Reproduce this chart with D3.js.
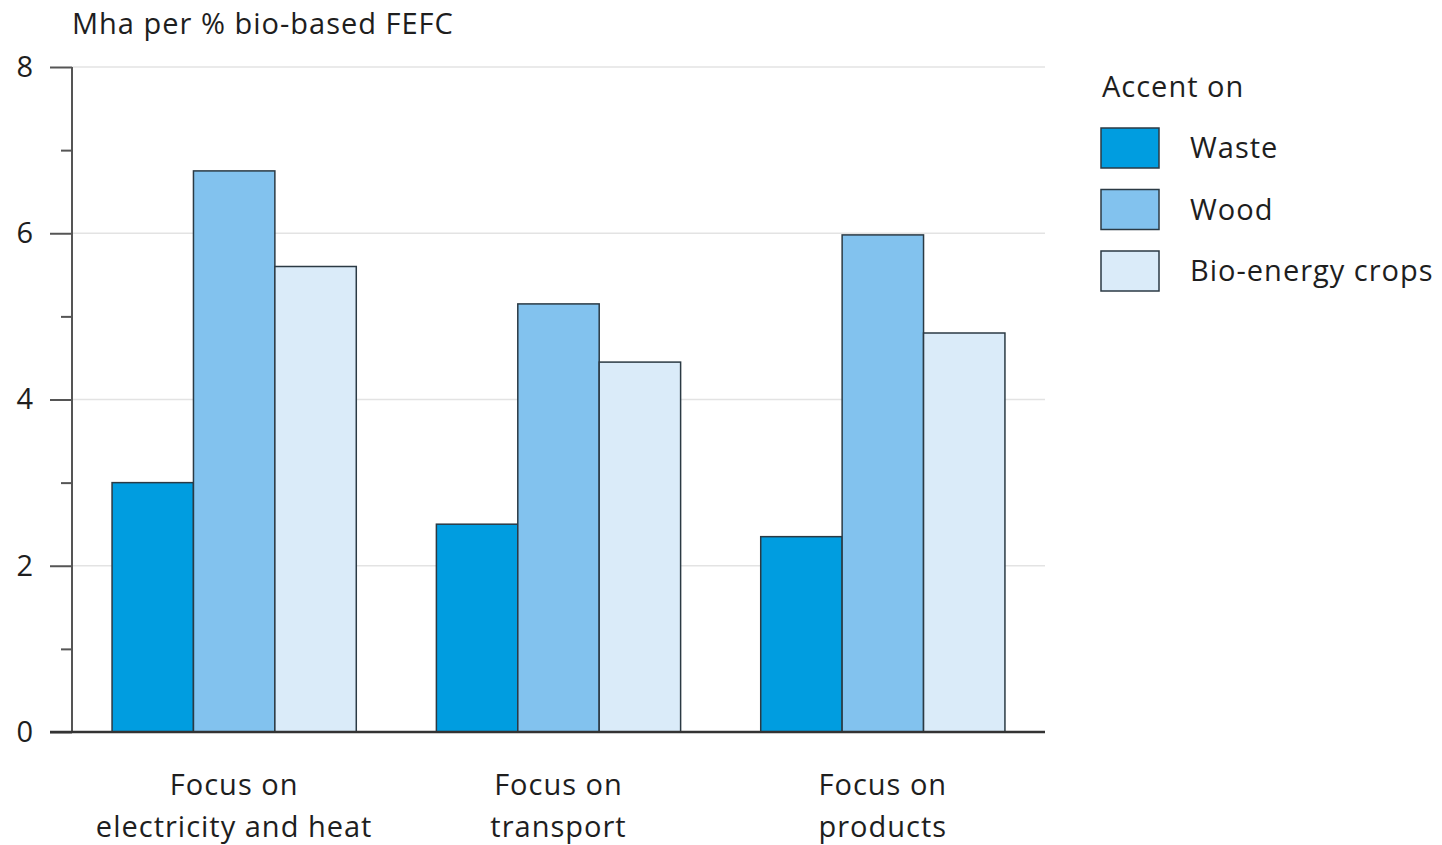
<!DOCTYPE html>
<html><head><meta charset="utf-8">
<script src="https://cdn.jsdelivr.net/npm/d3@7"></script>
<style>body{margin:0;background:#fff;} text{font-family:"Open Sans",sans-serif;fill:#1e1e1e;letter-spacing:1px;}</style>
</head><body>
<svg id="chart" width="1442" height="845"></svg>
<script>
const categories = [["Focus on","electricity and heat"],["Focus on","transport"],["Focus on","products"]];
const seriesNames = ["Waste","Wood","Bio-energy crops"];
const waste = [3.0, 2.5, 2.35];
const wood = [6.75, 5.15, 5.98];
const crops = [5.6, 4.45, 4.8];
const yTicks = [0,2,4,6,8];
const yMinorTicks = [1,3,5,7];
const yTitle = "Mha per % bio-based FEFC";
const legendTitle = "Accent on";
const colors = ["#009de0","#82c2ee","#daebf9"];

(function(){
const svg = d3.select("#chart");
const mLeft = 72, mRight = 1045, mTop = 67, mBottom = 732;
const fs = 29;
const seriesVals = [waste, wood, crops];
const y = d3.scaleLinear().domain([0,8]).range([mBottom, mTop]);
const x0 = d3.scaleBand().domain(d3.range(categories.length)).range([mLeft, mRight]).paddingInner(0.247).paddingOuter(0.1235);
const x1 = d3.scaleBand().domain(d3.range(seriesNames.length)).range([0, x0.bandwidth()]);

// gridlines
svg.append("g").selectAll("line").data(yTicks.filter(d=>d>0)).join("line")
  .attr("x1", mLeft).attr("x2", mRight).attr("y1", d=>y(d)).attr("y2", d=>y(d))
  .attr("stroke","#e3e3e3").attr("stroke-width",1.5);

// bars
const g = svg.append("g");
categories.forEach((c,i)=>{
  seriesVals.forEach((vals,s)=>{
    g.append("rect")
      .attr("x", x0(i)+x1(s)).attr("y", y(vals[i]))
      .attr("width", x1.bandwidth()).attr("height", y(0)-y(vals[i]))
      .attr("fill", colors[s]).attr("stroke","#2b3a44").attr("stroke-width",1.5);
  });
});

// y axis
const yAxis = d3.axisLeft(y).tickValues(yTicks).tickSize(22).tickPadding(16).tickFormat(d3.format("d"));
const ya = svg.append("g").attr("transform",`translate(${mLeft},0)`).call(yAxis);
ya.select(".domain").attr("stroke","#555").attr("stroke-width",2).attr("d",`M0,${mTop}V${mBottom}`);
ya.selectAll(".tick line").attr("stroke","#555").attr("stroke-width",2);
ya.selectAll(".tick text").attr("font-size",fs).attr("fill","#1e1e1e").style("font-family","'Open Sans',sans-serif");
const yMinor = d3.axisLeft(y).tickValues(yMinorTicks).tickSize(11).tickFormat("");
const ym = svg.append("g").attr("transform",`translate(${mLeft},0)`).call(yMinor);
ym.select(".domain").remove();
ym.selectAll(".tick line").attr("stroke","#555").attr("stroke-width",2);

// x baseline
svg.append("line").attr("x1",50).attr("x2",mRight).attr("y1",y(0)).attr("y2",y(0))
  .attr("stroke","#333").attr("stroke-width",2.5);

// category labels
categories.forEach((c,i)=>{
  const cx = x0(i)+x0.bandwidth()/2;
  const t = svg.append("text").attr("x", cx).attr("y", 795)
    .attr("text-anchor","middle").attr("font-size",fs);
  c.forEach((line,j)=>t.append("tspan").attr("x", cx).attr("dy", j===0?0:42).text(line));
});

// y title
svg.append("text").attr("x",72).attr("y",34).attr("font-size",fs).text(yTitle);

// legend
const lg = svg.append("g");
lg.append("text").attr("x",1102).attr("y",97).attr("font-size",fs).text(legendTitle);
seriesNames.forEach((n,s)=>{
  const yy = 128 + s*61.5;
  lg.append("rect").attr("x",1101).attr("y",yy).attr("width",58).attr("height",40)
    .attr("fill",colors[s]).attr("stroke","#2b3a44").attr("stroke-width",1.5);
  lg.append("text").attr("x",1190).attr("y",yy+30).attr("font-size",fs).text(n);
});
})();
</script>
</body></html>
